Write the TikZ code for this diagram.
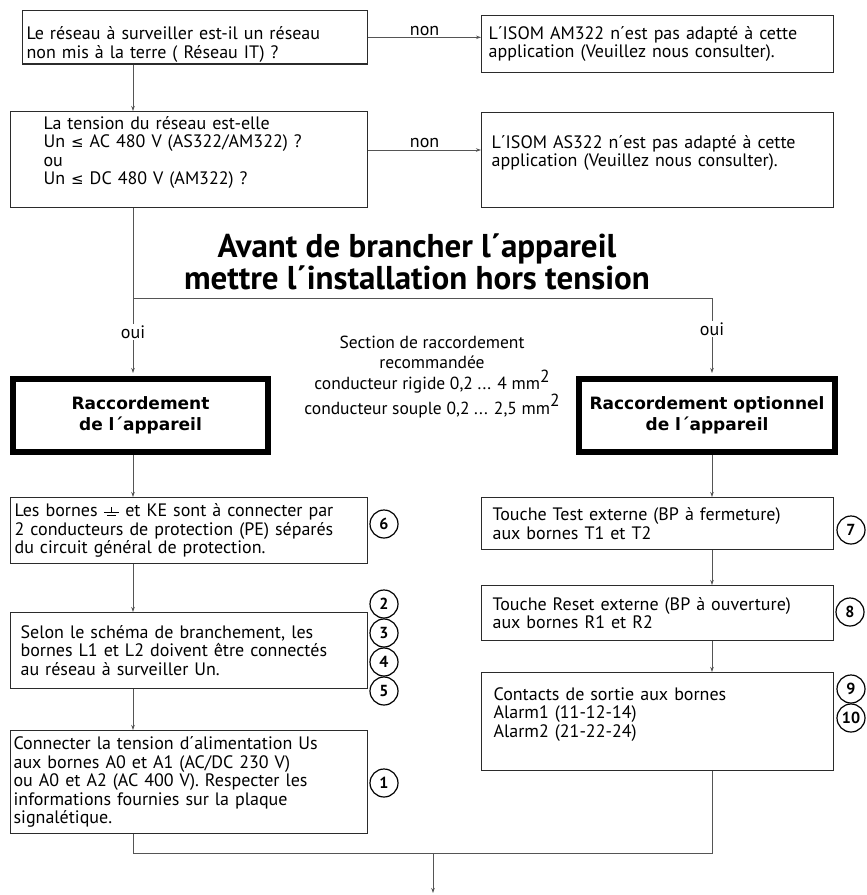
\documentclass[tikz,border=0pt]{standalone}
\usepackage{fontspec}
\setmainfont{PT Sans}
\newfontfamily\lourde{DejaVu Sans}
\usetikzlibrary{arrows.meta,positioning}
\definecolor{trait}{HTML}{2B2B2B}
\definecolor{fleche}{HTML}{555555}
\newcommand\carre{\raisebox{0.42em}{2}}
\newcommand\infeg{{\lourde\fontsize{15}{15}\selectfont ≤}}
\newcommand\erde{\tikz[x=1pt,y=1pt,baseline=0pt,line width=0.7pt]{\draw (0,4.5)--(15,4.5) (3,1.5)--(12,1.5) (7.5,4.5)--(7.5,10);}}
\tikzset{
  box/.style={draw=trait,line width=1.2pt,anchor=north west,align=left,font=\fontsize{18}{18.5}\selectfont,inner ysep=2pt},
  titre/.style={draw=black,line width=6pt,anchor=north west,align=center,font=\lourde\bfseries\fontsize{17}{21}\selectfont,inner sep=2pt},
  arr/.style={-{Stealth[length=5pt,width=3.5pt]},line width=0.8pt,draw=fleche},
  lien/.style={line width=0.8pt,draw=fleche},
  num/.style={circle,draw=black,line width=1.2pt,minimum size=28pt,inner sep=0pt,font=\bfseries\fontsize{16}{16}\selectfont},
  lbl/.style={font=\fontsize{18}{18.5}\selectfont,inner sep=1.5pt},
}

\begin{document}
\begin{tikzpicture}[x=1pt,y=-1pt]
  \useasboundingbox (0,0) rectangle (867,895);
  \coordinate (axeG) at (133,0);
  \coordinate (axeD) at (712,0);
  % questions
  \node[box,text width=337pt,inner xsep=4pt,minimum height=53pt] (b1) at (22,10) {\rule{0pt}{27pt}Le réseau à surveiller est-il un réseau\\non mis à la terre ( Réseau IT) ?};
  \node[box,text width=338pt,inner xsep=7pt,minimum height=57pt] (b2) at (481,15) {L´ISOM AM322 n´est pas adapté à cette\\application (Veuillez nous consulter).};
  \node[box,text width=291pt,inner xsep=33pt,minimum height=96pt] (b3) at (10,111) {La tension du réseau est-elle\\Un \infeg{} AC 480 V (AS322/AM322) ?\\ou\\Un \infeg{} DC 480 V (AM322) ?\\ \mbox{}};
  \node[box,text width=332pt,inner xsep=10pt,minimum height=95pt] (b4) at (481,112) {L´ISOM AS322 n´est pas adapté à cette\\application (Veuillez nous consulter).\\ \mbox{}};
  \draw[arr] (b1.south -| axeG) -- (b3.north -| axeG);
  \draw[arr] (b1.east) -- (b2.west |- b1.east) node[midway,above,lbl] {non};
  \path (b3.north east) ++(0,39) coordinate (nonB);
  \draw[arr] (nonB) -- (nonB -| b4.west) node[midway,above,lbl] {non};
  % avertissement
  \node[font=\bfseries\fontsize{33}{28}\selectfont,align=center] (avert) at (417,262) {Avant de brancher l´appareil\\mettre l´installation hors tension};
  \coordinate (jH) at (0,298);
  \draw[lien] (jH -| axeG) -- (jH -| axeD);
  \node[titre,minimum width=255pt,minimum height=73pt] (t1) at (10,376) {Raccordement\\de l´appareil};
  \node[titre,minimum width=256pt,minimum height=73pt] (t2) at (576,376) {Raccordement optionnel\\de l´appareil};
  \draw[arr,shorten >=3pt] (b3.south -| axeG) -- (t1.north -| axeG) node[pos=0.74,lbl,fill=white] {oui};
  \draw[arr,shorten >=3pt] (jH -| axeD) -- (t2.north -| axeD) node[pos=0.4,lbl,fill=white] {oui};
  \node[align=center,font=\fontsize{17.5}{19.5}\selectfont] (sect) at (432,377) {Section de raccordement\\recommandée\\conducteur rigide 0,2 ... 4 mm\carre\\conducteur souple 0,2 ... 2,5 mm\carre};
  % colonne gauche
  \node[box,text width=349pt,inner xsep=4pt,minimum height=66pt] (b5) at (10,497) {Les bornes \erde{} et KE sont à connecter par\\2 conducteurs de protection (PE) séparés\\du circuit général de protection.};
  \node[box,text width=337pt,inner xsep=10pt,minimum height=76pt] (b6) at (10,612) {Selon le schéma de branchement, les\\bornes L1 et L2 doivent être connectés\\au réseau à surveiller Un.};
  \node[box,text width=351pt,inner xsep=3pt,minimum height=103pt] (b10) at (10,730) {Connecter la tension d´alimentation Us\\aux bornes  A0 et A1 (AC/DC 230 V)\\ou A0 et A2 (AC 400 V).  Respecter les\\informations fournies sur la plaque\\signalétique.};
  \draw[arr] (t1.south -| axeG) -- (b5.north -| axeG);
  \draw[arr] (b5.south -| axeG) -- (b6.north -| axeG);
  \draw[arr] (b6.south -| axeG) -- (b10.north -| axeG);
  \node[num] (c6) at (384,524) {6};
  \node[num] (c2) at (384,604) {2};
  \node[num] (c3) at (384,633) {3};
  \node[num] (c4) at (384,662) {4};
  \node[num] (c5) at (384,691) {5};
  \node[num] (c1) at (384,783) {1};
  % colonne droite
  \node[box,text width=330pt,inner xsep=11pt,minimum height=52pt] (b7) at (481,497) {Touche Test externe (BP à fermeture)\\aux bornes T1 et T2};
  \node[box,text width=330pt,inner xsep=11pt,minimum height=55pt] (b8) at (481,585) {Touche Reset externe (BP à ouverture)\\aux bornes R1 et R2};
  \node[box,text width=328pt,inner xsep=12pt,minimum height=98pt] (b9) at (481,672) {Contacts de sortie aux bornes\\Alarm1 (11-12-14)\\Alarm2 (21-22-24)\\ \mbox{}};
  \draw[arr] (t2.south -| axeD) -- (b7.north -| axeD);
  \draw[arr] (b7.south -| axeD) -- (b8.north -| axeD);
  \draw[arr] (b8.south -| axeD) -- (b9.north -| axeD);
  \node[num] (c7) at (851,530) {7};
  \node[num] (c8) at (850,612) {8};
  \node[num] (c9) at (851,689) {9};
  \node[num] (c10) at (851,718) {10};
  % sortie
  \coordinate (jB) at (0,853);
  \coordinate (fin) at (433,893);
  \draw[lien] (b10.south -| axeG) |- (fin |- jB) -| (b9.south -| axeD);
  \draw[arr] (fin |- jB) -- (fin);
\end{tikzpicture}
\end{document}
